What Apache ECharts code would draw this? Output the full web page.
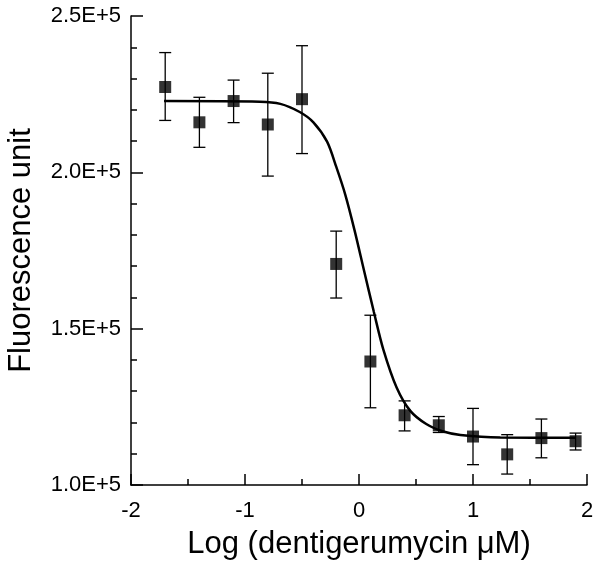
<!DOCTYPE html>
<html>
<head>
<meta charset="utf-8">
<script src="https://cdn.jsdelivr.net/npm/echarts@6/dist/echarts.min.js"></script>
<style>
  html, body { margin: 0; padding: 0; background: #fff; }
  #chart { width: 602px; height: 571px; }
</style>
</head>
<body>
<div id="chart"></div>
<script>
// measured points (log concentration, fluorescence)
const logConc = [-1.7, -1.4, -1.1, -0.8, -0.5, -0.2, 0.1, 0.4, 0.7, 1.0, 1.3, 1.6, 1.9]
const meanVals = [227300, 216000, 222800, 215300, 223400, 170700, 139500, 122300, 119100, 115500, 109800, 115000, 114000]
const errHigh = [238300, 224000, 229500, 231700, 240500, 181200, 154300, 126900, 121900, 124500, 116100, 121100, 116600]
const errLow = [216600, 208000, 215900, 198800, 206000, 159800, 124700, 117300, 116800, 106500, 103500, 108700, 111200]

// fitted curve
const fitX = [-1.71, -0.87, -0.69, -0.52, -0.40, -0.28, -0.20, -0.12, -0.04, 0.044, 0.13, 0.213, 0.33, 0.45, 0.59, 0.74, 0.89, 1.24, 1.90]
const fitY = [222800, 222600, 221900, 219300, 216000, 209800, 201800, 192800, 181600, 168600, 155400, 143400, 131200, 123700, 119500, 117100, 116000, 115200, 115100]

const yTicks = [100000, 150000, 200000, 250000]

const chart = echarts.init(document.getElementById('chart'))

const font = 'Liberation Sans, Arial, sans-serif'

chart.setOption({
  animation: false,
  grid: {left: 131, right: 15, top: 16, bottom: 86, outerBoundsMode: 'none'},
  xAxis: {
    type: 'value',
    min: -2,
    max: 2,
    interval: 1,
    name: 'Log (dentigerumycin μM)',
    nameLocation: 'middle',
    nameGap: 44,
    nameTextStyle: {fontFamily: font, fontSize: 31, color: '#000'},
    axisLine: {show: true, onZero: false, lineStyle: {color: '#000', width: 1.5}},
    axisTick: {show: true, inside: true, length: 11, lineStyle: {color: '#000', width: 1.5}},
    minorTick: {show: true, splitNumber: 2, length: 6, lineStyle: {color: '#000', width: 1.5}},
    axisLabel: {fontFamily: font, fontSize: 22, color: '#000', margin: 15},
    splitLine: {show: false}
  },
  yAxis: {
    type: 'value',
    min: yTicks[0],
    max: yTicks[yTicks.length - 1],
    interval: 50000,
    name: 'Fluorescence unit',
    nameLocation: 'middle',
    nameGap: 94,
    nameTextStyle: {fontFamily: font, fontSize: 31, color: '#000'},
    axisLine: {show: true, onZero: false, lineStyle: {color: '#000', width: 1.5}},
    axisTick: {show: true, inside: true, length: 12, lineStyle: {color: '#000', width: 1.5}},
    minorTick: {show: true, splitNumber: 5, length: 6, lineStyle: {color: '#000', width: 1.5}},
    axisLabel: {
      fontFamily: font, fontSize: 22, color: '#000', margin: 10,
      padding: [7, 0, 0, 0],
      formatter: v => (v / 100000).toFixed(1) + 'E+5'
    },
    splitLine: {show: false}
  },
  series: [
    {
      type: 'line',
      data: fitX.map((x, i) => [x, fitY[i]]),
      smooth: 0.3,
      symbol: 'none',
      lineStyle: {color: '#000', width: 2.5},
      z: 2
    },
    {
      type: 'custom',
      data: logConc.map((x, i) => [x, errLow[i], errHigh[i]]),
      renderItem: (params, api) => {
        const lo = api.coord([api.value(0), api.value(1)])
        const hi = api.coord([api.value(0), api.value(2)])
        const w = 6
        const style = {stroke: '#000', lineWidth: 1.3}
        return {
          type: 'group',
          children: [
            {type: 'line', shape: {x1: lo[0], y1: lo[1], x2: hi[0], y2: hi[1]}, style},
            {type: 'line', shape: {x1: lo[0] - w, y1: lo[1], x2: lo[0] + w, y2: lo[1]}, style},
            {type: 'line', shape: {x1: hi[0] - w, y1: hi[1], x2: hi[0] + w, y2: hi[1]}, style}
          ]
        }
      },
      z: 3
    },
    {
      type: 'scatter',
      data: logConc.map((x, i) => [x, meanVals[i]]),
      symbol: 'rect',
      symbolSize: 12,
      itemStyle: {color: '#000'},
      z: 4
    }
  ]
})
</script>
</body>
</html>
